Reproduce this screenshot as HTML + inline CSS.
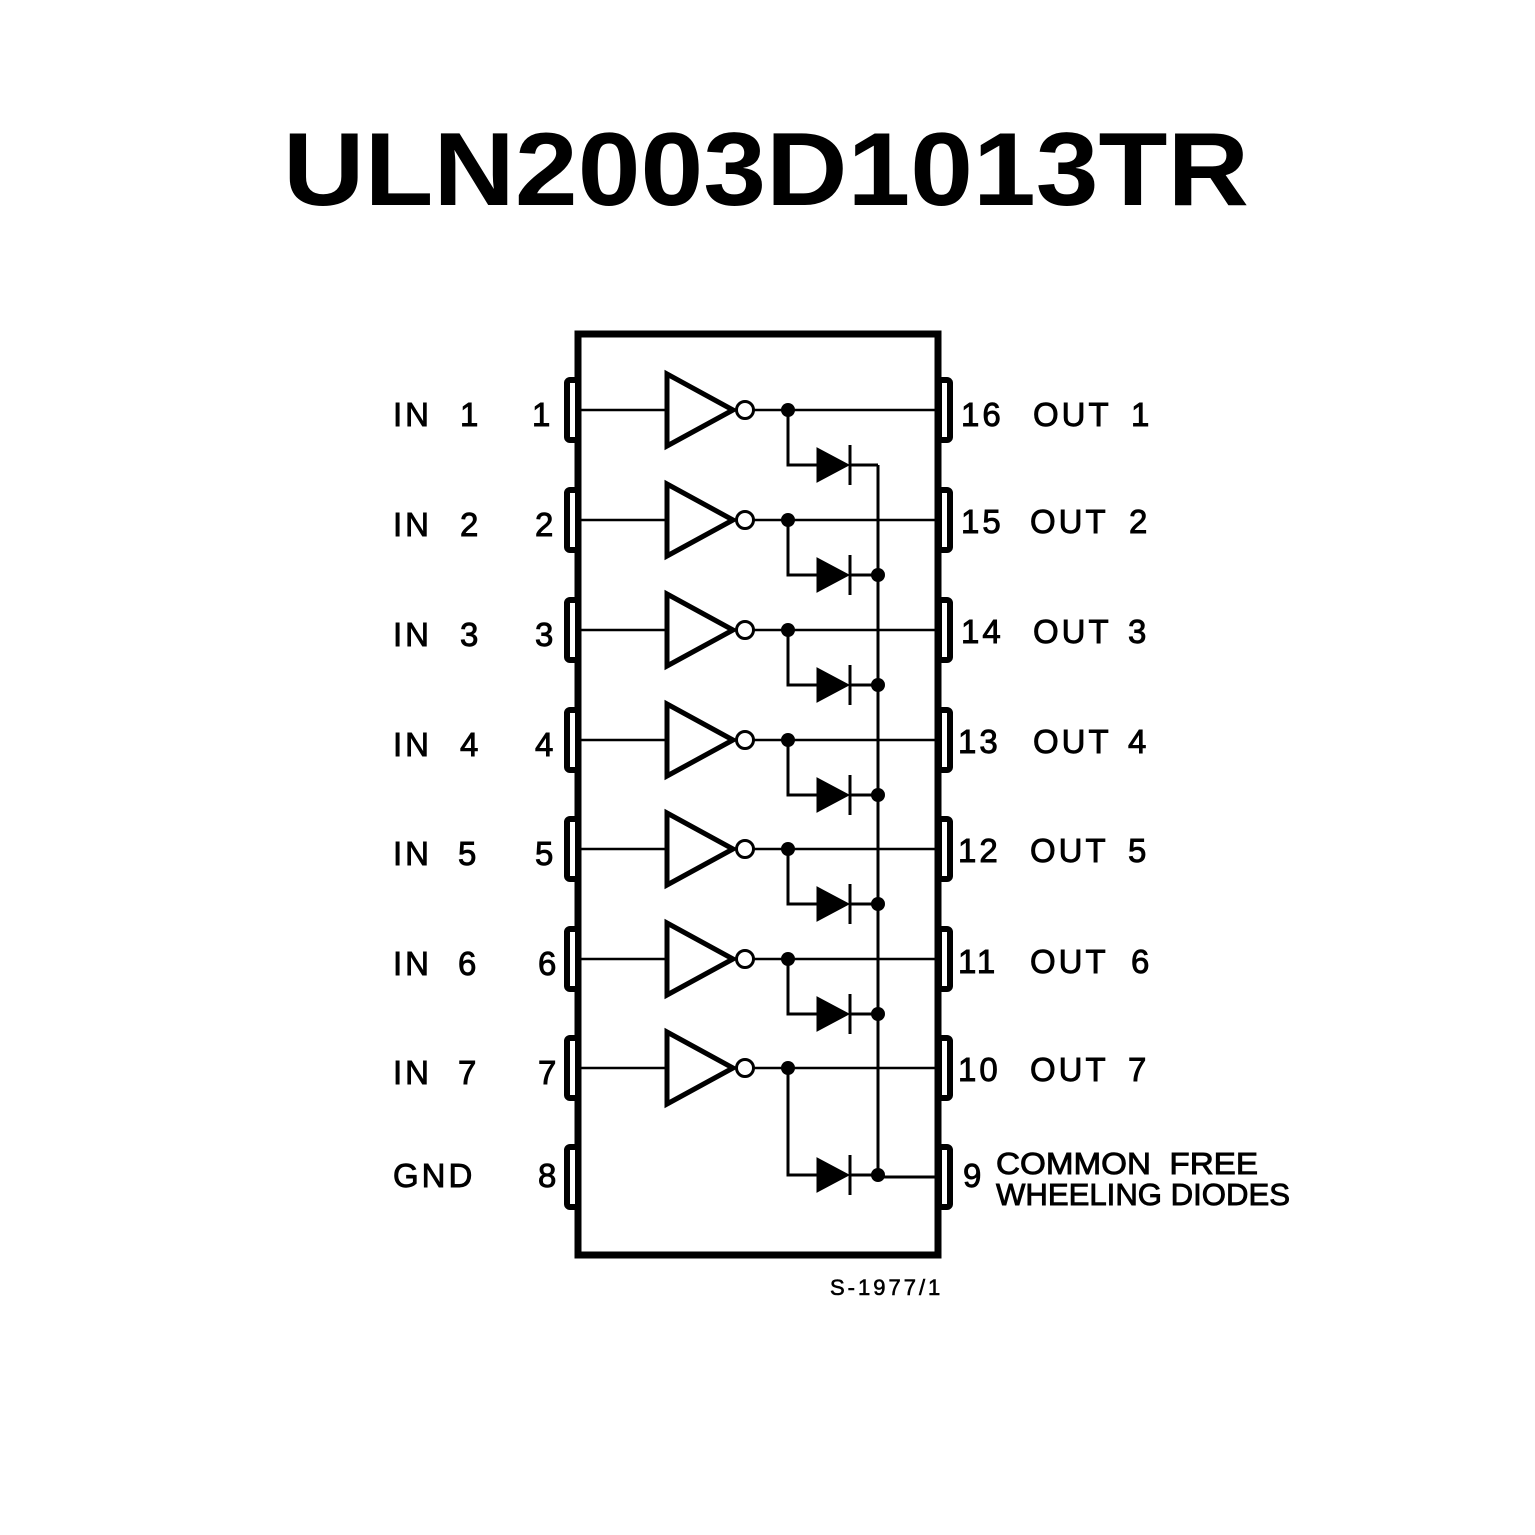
<!DOCTYPE html>
<html><head><meta charset="utf-8"><style>
html,body{margin:0;padding:0;background:#fff;}
svg{display:block;}
text{font-family:"Liberation Sans",sans-serif;fill:#000;}
.lb text{stroke:#000;stroke-width:0.9;}
</style></head><body>
<svg width="1535" height="1535" viewBox="0 0 1535 1535" xmlns="http://www.w3.org/2000/svg">
<rect width="1535" height="1535" fill="#fff"/>
<text x="766" y="205" font-size="104" font-weight="bold" text-anchor="middle" textLength="966" lengthAdjust="spacingAndGlyphs">ULN2003D1013TR</text>

<g stroke="#000" fill="none">
<rect x="578" y="334" width="360" height="921" stroke-width="7"/>
<line x1="878" y1="465" x2="878" y2="1177" stroke-width="3"/>
<line x1="878" y1="1177" x2="938" y2="1177" stroke-width="3"/>
</g>

<g id="rows" stroke="#000" stroke-width="3" fill="none"></g>

<g class="lb" font-size="33" letter-spacing="3">
<text x="393" y="426">IN</text><text x="460" y="426">1</text><text x="532" y="426">1</text>
<text x="393" y="536">IN</text><text x="460" y="536">2</text><text x="535" y="536">2</text>
<text x="393" y="646">IN</text><text x="460" y="646">3</text><text x="535" y="646">3</text>
<text x="393" y="756">IN</text><text x="460" y="756">4</text><text x="535" y="756">4</text>
<text x="393" y="865">IN</text><text x="458" y="865">5</text><text x="535" y="865">5</text>
<text x="393" y="975">IN</text><text x="458" y="975">6</text><text x="538" y="975">6</text>
<text x="393" y="1084">IN</text><text x="458" y="1084">7</text><text x="538" y="1084">7</text>
<text x="393" y="1187">GND</text><text x="538" y="1187">8</text>

<text x="961" y="426">16</text><text x="1033" y="426">OUT</text><text x="1131" y="426">1</text>
<text x="961" y="533">15</text><text x="1030" y="533">OUT</text><text x="1129" y="533">2</text>
<text x="961" y="643">14</text><text x="1033" y="643">OUT</text><text x="1128" y="643">3</text>
<text x="958" y="753">13</text><text x="1033" y="753">OUT</text><text x="1128" y="753">4</text>
<text x="958" y="862">12</text><text x="1030" y="862">OUT</text><text x="1128" y="862">5</text>
<text x="958" y="973">11</text><text x="1030" y="973">OUT</text><text x="1131" y="973">6</text>
<text x="958" y="1081">10</text><text x="1030" y="1081">OUT</text><text x="1128" y="1081">7</text>
<text x="963" y="1187">9</text>
</g>
<g class="lb" font-size="31">
<text x="996" y="1174" textLength="262" lengthAdjust="spacingAndGlyphs">COMMON&#160;&#160;FREE</text>
<text x="996" y="1205" textLength="294" lengthAdjust="spacingAndGlyphs">WHEELING DIODES</text>
</g>
<text x="830" y="1295" font-size="22" letter-spacing="3" stroke="#000" stroke-width="0.6">S-1977/1</text>

<script>
(function(){
var g=document.getElementById('rows');var ns='http://www.w3.org/2000/svg';
function el(t,a){var e=document.createElementNS(ns,t);for(var k in a)e.setAttribute(k,a[k]);g.appendChild(e);return e;}
var ys=[410,520,630,740,849,959,1068];
function lpin(y){el('rect',{x:567,y:y-30,width:11,height:60,rx:3,'stroke-width':6,fill:'#fff'});}
function rpin(y){el('rect',{x:939,y:y-30,width:11,height:60,rx:3,'stroke-width':6,fill:'#fff'});}
function diode(y){
 el('polygon',{points:'817,'+(y-17)+' 817,'+(y+17)+' 849,'+y,fill:'#000','stroke-width':1});
 el('line',{x1:850,y1:y-20,x2:850,y2:y+20,'stroke-width':3});
 el('line',{x1:850,y1:y,x2:878,y2:y});
}
ys.forEach(function(y,i){
 lpin(y);rpin(y);
 el('line',{x1:580,y1:y,x2:667,y2:y,'stroke-width':2.5});
 el('polygon',{points:'667,'+(y-36)+' 667,'+(y+36)+' 733,'+y,'stroke-width':5,fill:'#fff','stroke-linejoin':'miter'});
 el('circle',{cx:745,cy:y,r:8.5,'stroke-width':3,fill:'#fff'});
 el('line',{x1:754,y1:y,x2:938,y2:y,'stroke-width':2.5});
 var dy=(i==6)?1175:y+55;
 el('polyline',{points:'788,'+y+' 788,'+dy+' 817,'+dy});
 el('circle',{cx:788,cy:y,r:7,fill:'#000','stroke-width':0});
 diode(dy);
 if(i>0) el('circle',{cx:878,cy:dy,r:7,fill:'#000','stroke-width':0});
});
lpin(1177);rpin(1177);
})();
</script>
</svg>
</body></html>
